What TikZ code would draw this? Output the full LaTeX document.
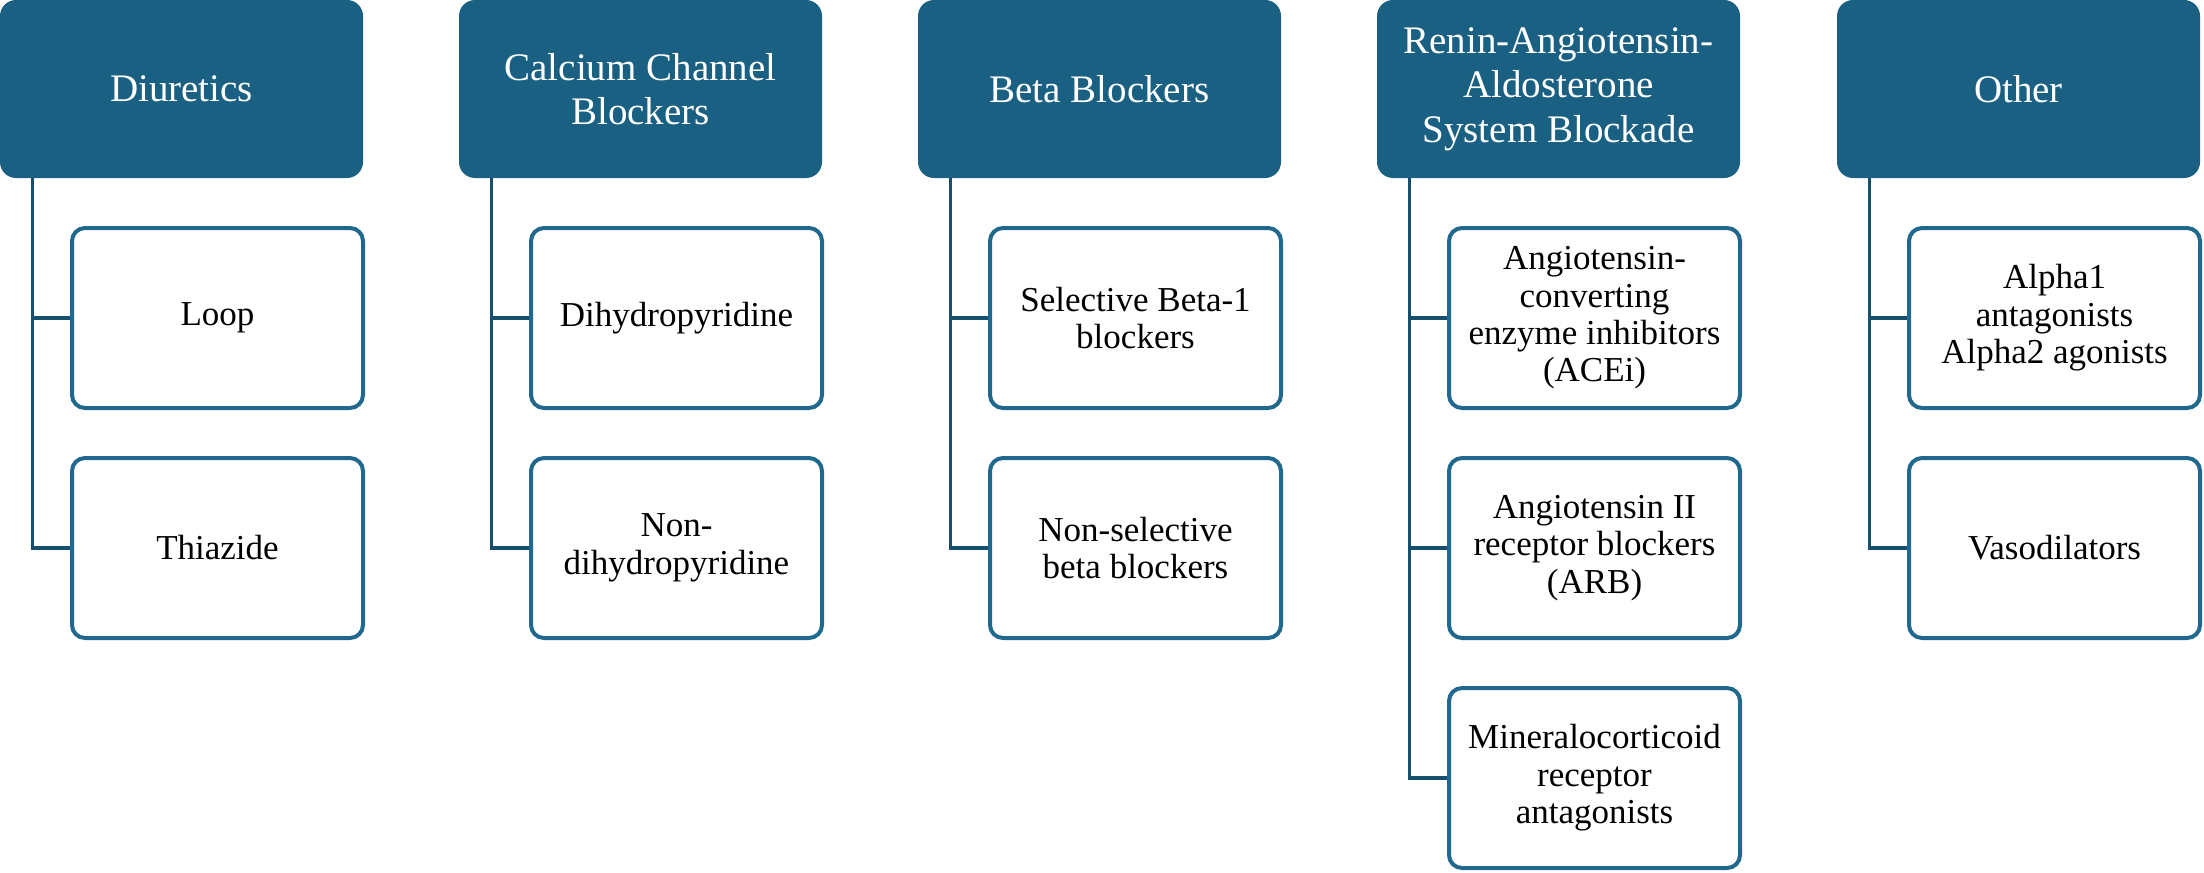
\documentclass[tikz,border=0pt]{standalone}
\usepackage{fontspec}
\setmainfont{Liberation Serif}
\definecolor{hdr}{RGB}{26,96,130}
\definecolor{cbd}{RGB}{32,104,142}
\definecolor{cline}{RGB}{22,80,110}
\begin{document}
\begin{tikzpicture}[x=0.5pt,y=-0.5pt,
  hdrbox/.style={fill=hdr, draw=none, rounded corners=8pt, minimum width=181.5pt, minimum height=89pt,
    text=white, font=\fontsize{19.5}{22.25}\selectfont, align=center, inner sep=0pt},
  childbox/.style={draw=cbd, line width=2pt, fill=white, rounded corners=6.5pt, minimum width=145.5pt,
    minimum height=90pt, font=\fontsize{17.5}{18.7}\selectfont, align=center, inner sep=0pt},
  conn/.style={draw=cline, line width=1.8pt}]
\useasboundingbox (0,0) rectangle (2204,872);

% headers
\node[hdrbox] (h1) at (181.5,89) {Diuretics};
\node[hdrbox] (h2) at (640.5,89) {Calcium Channel\\Blockers};
\node[hdrbox] (h3) at (1099.5,89) {Beta Blockers};
\node[hdrbox] (h4) at (1558.5,89) {Renin-Angiotensin-\\Aldosterone\\System Blockade};
\node[hdrbox] (h5) at (2018.5,89) {Other};

% children
\node[childbox] (d1) at (217.5,318) {Loop};
\node[childbox] (d2) at (217.5,548) {Thiazide};
\node[childbox] (c1) at (676.5,318) {Dihydropyridine};
\node[childbox] (c2) at (676.5,548) {Non-\\dihydropyridine};
\node[childbox] (b1) at (1135.5,318) {Selective Beta-1\\blockers};
\node[childbox] (b2) at (1135.5,548) {Non-selective\\beta blockers};
\node[childbox] (r1) at (1594.5,318) {Angiotensin-\\converting\\enzyme inhibitors\\(ACEi)};
\node[childbox] (r2) at (1594.5,548) {Angiotensin II\\receptor blockers\\(ARB)};
\node[childbox] (r3) at (1594.5,778) {Mineralocorticoid\\receptor\\antagonists};
\node[childbox] (o1) at (2054.5,318) {Alpha1\\antagonists\\Alpha2 agonists};
\node[childbox] (o2) at (2054.5,548) {Vasodilators};

% connectors
\foreach \h/\c in {h1/d1,h1/d2,h2/c1,h2/c2,h3/b1,h3/b2,h4/r1,h4/r2,h4/r3,h5/o1,h5/o2}
  \draw[conn] (\h.south west) ++(33,0) |- (\c.west);
\end{tikzpicture}
\end{document}
